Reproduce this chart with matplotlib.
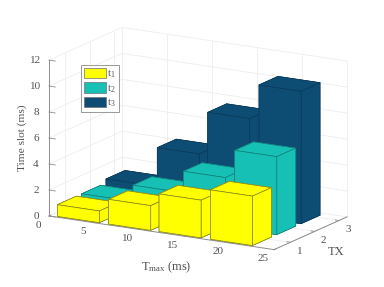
import matplotlib
matplotlib.use("Agg")
import matplotlib.pyplot as plt
from matplotlib.patches import Patch
from mpl_toolkits.mplot3d import proj3d

plt.rcParams['font.family'] = ['Liberation Serif', 'DejaVu Serif']
plt.rcParams['mathtext.fontset'] = 'custom'
plt.rcParams['mathtext.rm'] = 'Liberation Serif'
plt.rcParams['mathtext.it'] = 'Liberation Serif'
plt.rcParams['mathtext.default'] = 'rm'

# data
bar_x = [3.1, 8.8, 14.4, 20.1]
bar_y = [0.78, 1.78, 2.78]
t1_values = [0.9, 1.9, 2.9, 3.8]
t2_values = [0.9, 2.15, 3.8, 6.0]
t3_values = [1.2, 4.2, 7.5, 10.2]
series_labels = ['t$_1$', 't$_2$', 't$_3$']
series_colors = ['#FFFF00', '#17C0B4', '#0E4D73']
edge_colors = ['#85851A', '#127F7A', '#0B3A5A']
xticks = [0, 5, 10, 15, 20, 25]
yticks = [1, 2, 3]
zticks = [0, 2, 4, 6, 8, 10, 12]
xlim = (0, 25)
ylim = (0.33, 3.33)
zlim = (0, 12)
bar_w = 4.67
bar_d = 0.78

W, H = 384, 287
BOX = (260, 146, 161.5)
fig = plt.figure(figsize=(W/100, H/100), dpi=100)
pos0 = [0, -0.1, 1, 384/287]
ax = fig.add_axes(pos0, projection='3d')
ax.set_proj_type('ortho')
ax.view_init(elev=15, azim=-60)
ax.set_xlim(*xlim); ax.set_ylim(*ylim); ax.set_zlim(*zlim)
ax.set_box_aspect(BOX, zoom=1.0)
ax.set_axis_off()
ax.patch.set_alpha(0)
ax.computed_zorder = False

def px(x, y, z):
    X, Y, _ = proj3d.proj_transform(x, y, z, ax.get_proj())
    return ax.transData.transform((X, Y))

# fit the box onto the reference corners
fig.canvas.draw()
a = px(xlim[0], ylim[0], 0)
c = px(xlim[1], ylim[1], 0)
ax.set_box_aspect(BOX, zoom=298 / (c[0] - a[0]))
fig.canvas.draw()
a = px(xlim[0], ylim[0], 0)
pos0[0] += (49 - a[0]) / W
pos0[1] += ((H - 216) - a[1]) / H
ax.set_position(pos0)
fig.canvas.draw()

GRID = '#EEEEEE'
AX = '#8C8C8C'
TXT = '#505050'
z0 = 1
# back planes
for x in xticks:
    ax.plot([x, x], [ylim[1], ylim[1]], zlim, color=GRID, lw=0.6, zorder=z0)
    ax.plot([x, x], ylim, [0, 0], color=GRID, lw=0.6, zorder=z0)
for y in yticks:
    ax.plot([0, 0], [y, y], zlim, color=GRID, lw=0.6, zorder=z0)
    ax.plot(xlim, [y, y], [0, 0], color=GRID, lw=0.6, zorder=z0)
for z in zticks:
    ax.plot(xlim, [ylim[1], ylim[1]], [z, z], color=GRID, lw=0.6, zorder=z0)
    ax.plot([0, 0], ylim, [z, z], color=GRID, lw=0.6, zorder=z0)

# bars, back to front
series = [t1_values, t2_values, t3_values]
order = 10
for j in reversed(range(3)):
    for i, xv in enumerate(bar_x):
        ax.bar3d(xv - bar_w/2, bar_y[j] - bar_d/2, 0, bar_w, bar_d, series[j][i],
                 color=series_colors[j], edgecolor=edge_colors[j], linewidth=0.5,
                 shade=False, zorder=order)
        order += 1

# axes lines
ax.plot(xlim, [ylim[0]]*2, [0, 0], color=AX, lw=0.7, zorder=5)
ax.plot([xlim[1]]*2, ylim, [0, 0], color=AX, lw=0.7, zorder=5)
ax.plot([0, 0], [ylim[0]]*2, zlim, color=AX, lw=0.7, zorder=5)

def label(x, y, z, dx, dy, s):
    p = px(x, y, z)
    fig.text((p[0] + dx)/W, (p[1] - dy)/H, s, fontsize=8, color=TXT, ha='center', va='center')

for z in zticks:
    ax.plot([0, 0.7], [ylim[0]]*2, [z, z], color=AX, lw=0.6, zorder=5)
    label(0, ylim[0], z, -13, 0, str(z))
for x in xticks:
    ax.plot([x, x], [ylim[0], ylim[0]+0.08], [0, 0], color=AX, lw=0.6, zorder=5)
    label(x, ylim[0], 0, -11, 9, str(x))
for y in yticks:
    ax.plot([25, 24.6], [y, y], [0, 0], color=AX, lw=0.6, zorder=5)
    label(25, y, 0, 9, 9, str(y))

fig.text(166/W, 1-267/H, r'T$_{\mathrm{max}}$ (ms)', fontsize=9, color=TXT, ha='center', va='center')
fig.text(336/W, 1-252/H, 'TX', fontsize=9, color=TXT, ha='center', va='center')
fig.text(22/W, 1-138/H, 'Time slot (ms)', fontsize=8.2, color=TXT, rotation=90, ha='center', va='center')

handles = [Patch(facecolor=c, edgecolor='#707070', linewidth=0.5) for c in series_colors]
leg = fig.legend(handles, series_labels, loc='upper left', bbox_to_anchor=(81/W, 1-65/H),
                 borderaxespad=0, fontsize=8, handlelength=2.0, handleheight=1.04, handletextpad=0.12,
                 labelspacing=0.2, borderpad=0.25, fancybox=False, framealpha=1, edgecolor='#999999')
leg.get_frame().set_linewidth(0.7)
for t in leg.get_texts():
    t.set_color(TXT)

fig.savefig('out.png', dpi=100)
